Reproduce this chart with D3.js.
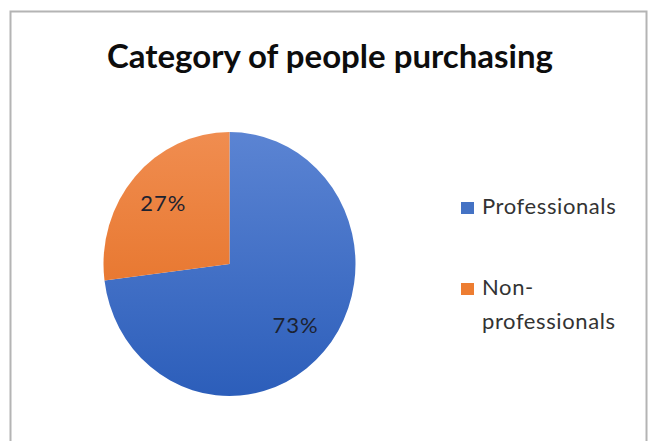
<!DOCTYPE html>
<html>
<head>
<meta charset="utf-8">
<script src="https://cdn.jsdelivr.net/npm/d3@7"></script>
<style>
  html, body { margin: 0; padding: 0; background: #fff; }
  svg { display: block; }
</style>
</head>
<body>
<svg id="chart" width="649" height="441"></svg>
<script>
// Share of buyers by category
const categories = ["Professionals", "Non-professionals"];
const shares = [73, 27];
const legendLines = [["Professionals"], ["Non-", "professionals"]];
const title = "Category of people purchasing";

const W = 649, H = 441;
const svg = d3.select("#chart");
const defs = svg.append("defs");

// Chart frame
svg.append("rect")
  .attr("x", 10.5).attr("y", 11.5)
  .attr("width", 636).attr("height", H)
  .attr("fill", "#fff")
  .attr("stroke", "#b4b4b4")
  .attr("stroke-width", 2);

// Helper: size a text element so its rendered width hits a target
function fitWidth(sel, target) {
  const node = sel.node();
  const fs = parseFloat(sel.attr("font-size"));
  const w = node.getComputedTextLength();
  if (w > 0) sel.attr("font-size", (fs * target / w).toFixed(2));
}

// Title
const t = svg.append("text")
  .attr("x", 330).attr("y", 68)
  .attr("text-anchor", "middle")
  .attr("font-family", "Lato, 'Open Sans', sans-serif")
  .attr("font-weight", 700)
  .attr("font-size", 30)
  .attr("fill", "#0d0d0d")
  .text(title);
fitWidth(t, 446);

// Pie geometry
const cx = 229.5, cy = 264, R = 132, sx = 126 / 132;

const color = d3.scaleOrdinal()
  .domain(categories)
  .range(["url(#gBlue)", "url(#gOrange)"]);
const solid = d3.scaleOrdinal()
  .domain(categories)
  .range(["#4472c4", "#ed7d31"]);

function grad(id, top, bottom) {
  const g = defs.append("linearGradient")
    .attr("id", id)
    .attr("gradientUnits", "userSpaceOnUse")
    .attr("x1", 0).attr("y1", -R).attr("x2", 0).attr("y2", R);
  g.append("stop").attr("offset", "0%").attr("stop-color", top);
  g.append("stop").attr("offset", "100%").attr("stop-color", bottom);
}
grad("gBlue", "#5b84d3", "#2c5eba");
grad("gOrange", "#f08d50", "#e2691a");

const pie = d3.pie().sort(null).value(d => d.value).startAngle(0).endAngle(2 * Math.PI);
const data = categories.map((c, i) => ({ name: c, value: shares[i] }));
const arcs = pie(data);

const arc = d3.arc().innerRadius(0).outerRadius(R);
const labelArc = d3.arc().innerRadius(R * 0.7).outerRadius(R * 0.7);

const g = svg.append("g")
  .attr("transform", `translate(${cx},${cy}) scale(${sx},1)`);

g.selectAll("path.slice")
  .data(arcs)
  .join("path")
  .attr("class", "slice")
  .attr("d", arc)
  .attr("fill", d => color(d.data.name));

// Percentage labels
svg.selectAll("text.pct")
  .data(arcs)
  .join("text")
  .attr("class", "pct")
  .attr("x", d => cx + labelArc.centroid(d)[0] * sx)
  .attr("y", d => cy + labelArc.centroid(d)[1])
  .attr("dy", "0.35em")
  .attr("text-anchor", "middle")
  .attr("font-family", "Lato, 'Open Sans', sans-serif")
  .attr("font-size", 22)
  .attr("letter-spacing", 1)
  .attr("fill", "#1c2230")
  .text(d => d.data.value + "%");

// Legend
const legendY = [214, 295];
const lg = svg.append("g");
categories.forEach((c, i) => {
  lg.append("rect")
    .attr("x", 461).attr("y", legendY[i] - 12)
    .attr("width", 13).attr("height", 12)
    .attr("fill", solid(c));
  const txt = lg.append("text")
    .attr("x", 482).attr("y", legendY[i])
    .attr("font-family", "Lato, 'Open Sans', sans-serif")
    .attr("font-size", 22)
    .attr("letter-spacing", 0.6)
    .attr("fill", "#333333");
  legendLines[i].forEach((line, j) => {
    txt.append("tspan")
      .attr("x", 482)
      .attr("dy", j === 0 ? 0 : 34)
      .text(line);
  });
});
</script>
</body>
</html>
